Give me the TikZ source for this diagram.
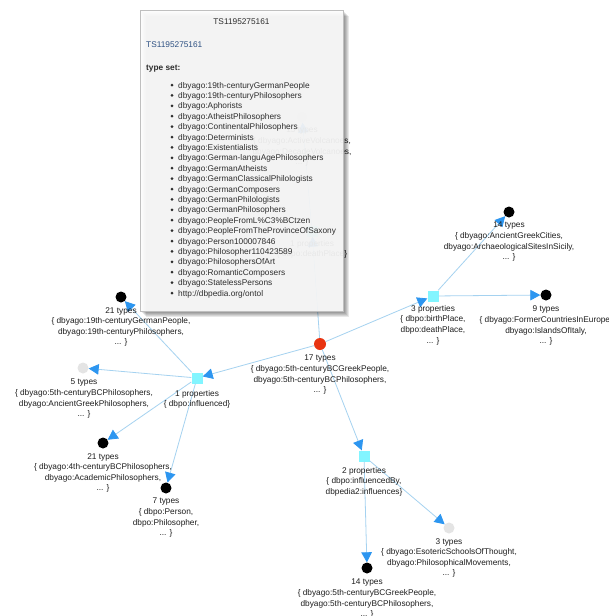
\documentclass[tikz,border=0pt]{standalone}
\usepackage{fontspec}
\setmainfont{Liberation Sans}
\usetikzlibrary{arrows.meta}
\definecolor{edgec}{RGB}{165,210,240}
\definecolor{tipc}{RGB}{45,150,240}
\definecolor{propc}{RGB}{130,245,255}
\definecolor{redc}{RGB}{232,52,18}
\definecolor{grayc}{RGB}{228,228,228}
\definecolor{txt}{RGB}{30,30,30}
\definecolor{txttwo}{RGB}{45,45,45}
\definecolor{linkc}{RGB}{45,80,130}
\begin{document}
\begin{tikzpicture}[x=1pt,y=-1pt,
  every node/.style={font=\fontsize{8.3}{10.6}\selectfont, text=txt},
  blk/.style={circle, inner sep=0pt, minimum size=11pt, fill=black},
  gry/.style={circle, inner sep=0pt, minimum size=11pt, fill=grayc},
  rd/.style={circle, inner sep=0pt, minimum size=12pt, fill=redc},
  prop/.style={rectangle, inner sep=0pt, minimum size=11pt, fill=propc},
  conn/.style={draw=edgec, line width=0.8pt, -{Triangle[length=10pt,width=10.5pt,color=tipc,fill=tipc]}},
  lbl/.style={align=center, anchor=north, inner sep=0pt}]
\useasboundingbox (0,0) rectangle (608,616);
\clip (0,0) rectangle (608,616);
\fill[white] (0,0) rectangle (608,616);

% nodes
\node[rd]   (n17)  at (320,344) {};
\node[prop] (p3)   at (433,296) {};
\node[blk]  (n14a) at (509,212) {};
\node[blk]  (n9)   at (546,295) {};
\node[prop] (p1)   at (197,378) {};
\node[blk]  (n21a) at (121,297) {};
\node[gry]  (n5)   at (83,368) {};
\node[blk]  (n21b) at (103,443) {};
\node[blk]  (n7)   at (166,488) {};
\node[prop] (p2)   at (364,456) {};
\node[gry]  (n3)   at (449,528) {};
\node[blk]  (n14b) at (367,568) {};
\node[gry]  (n15)  at (302,117) {};
\node[prop] (p1b)  at (312,231) {};

% connectors
\draw[conn] (n17) -- (p3);
\draw[conn] (p3) -- (n14a);
\draw[conn] (p3) -- (n9);
\draw[conn] (n17) -- (p1);
\draw[conn] (p1) -- (n21a);
\draw[conn] (p1) -- (n5);
\draw[conn] (p1) -- (n21b);
\draw[conn] (p1) -- (n7);
\draw[conn] (n17) -- (p2);
\draw[conn] (p2) -- (n3);
\draw[conn] (p2) -- (n14b);
\draw[conn] (n17) -- (p1b);
\draw[conn] (p1b) -- (n15);

% labels
\node[lbl] (n17l)  at (320,355) {17 types\\\{ dbyago:5th-centuryBCGreekPeople,\\dbyago:5th-centuryBCPhilosophers,\\... \}};
\node[lbl] (p3l)   at (433,305) {3 properties\\\{ dbpo:birthPlace,\\dbpo:deathPlace,\\... \}};
\node[lbl] (n14al) at (509,222) {14 types\\\{ dbyago:AncientGreekCities,\\dbyago:ArchaeologicalSitesInSicily,\\... \}};
\node[lbl] (n9l)   at (546,306) {9 types\\\{ dbyago:FormerCountriesInEurope,\\dbyago:IslandsOfItaly,\\... \}};
\node[lbl] (p1l)   at (197,390) {1 properties\\\{ dbpo:influenced\}};
\node[lbl] (n21al) at (121,307) {21 types\\\{ dbyago:19th-centuryGermanPeople,\\dbyago:19th-centuryPhilosophers,\\... \}};
\node[lbl] (n5l)   at (84,379) {5 types\\\{ dbyago:5th-centuryBCPhilosophers,\\dbyago:AncientGreekPhilosophers,\\... \}};
\node[lbl] (n21bl) at (103,453) {21 types\\\{ dbyago:4th-centuryBCPhilosophers,\\dbyago:AcademicPhilosophers,\\... \}};
\node[lbl] (n7l)   at (166,498) {7 types\\\{ dbpo:Person,\\dbpo:Philosopher,\\... \}};
\node[lbl] (p2l)   at (364,467) {2 properties\\\{ dbpo:influencedBy,\\dbpedia2:influences\}};
\node[lbl] (n3l)   at (449,538) {3 types\\\{ dbyago:EsotericSchoolsOfThought,\\dbyago:PhilosophicalMovements,\\... \}};
\node[lbl] (n14bl) at (367,579) {14 types\\\{ dbyago:5th-centuryBCGreekPeople,\\dbyago:5th-centuryBCPhilosophers,\\... \}};
\node[lbl] (n15l)  at (302,127) {15 types\\\{ dbyago:ActiveVolcanoes,\\dbyago:DecadeVolcanoes,\\... \}};
\node[lbl] (p1bl)  at (312,240) {1 properties\\\{ dbpo:deathPlace\}};

% tooltip
\foreach \k in {1,...,6}
  \fill[black, opacity=0.09] (140+\k,10+\k) rectangle (343+\k,311+\k);
\fill[white, fill opacity=0.9] (140,10) rectangle (343,311);
\draw[black!25, line width=0.5pt] (140,10) rectangle (343,311);
\node[anchor=base, inner sep=0pt, text=txttwo] (tttitle) at (241.5,24) {TS1195275161};
\node[anchor=base west, inner sep=0pt, text=linkc] (ttlink) at (146,47) {TS1195275161};
\node[anchor=base west, inner sep=0pt, text=txttwo] (ttset) at (146,70) {\textbf{type set:}};
\foreach \t [count=\i from 0] in {dbyago:19th-centuryGermanPeople,dbyago:19th-centuryPhilosophers,dbyago:Aphorists,dbyago:AtheistPhilosophers,dbyago:ContinentalPhilosophers,dbyago:Determinists,dbyago:Existentialists,dbyago:German-languAgePhilosophers,dbyago:GermanAtheists,dbyago:GermanClassicalPhilologists,dbyago:GermanComposers,dbyago:GermanPhilologists,dbyago:GermanPhilosophers,dbyago:PeopleFromL\%C3\%BCtzen,dbyago:PeopleFromTheProvinceOfSaxony,dbyago:Person100007846,dbyago:Philosopher110423589,dbyago:PhilosophersOfArt,dbyago:RomanticComposers,dbyago:StatelessPersons,http://dbpedia.org/ontol}{
  \fill[txttwo] (172,{85+10.4*\i}) circle (1.5);
  \node[anchor=base west, inner sep=0pt, text=txttwo] (ts\i) at (178,{88+10.4*\i}) {\t};
}
\end{tikzpicture}
\end{document}
